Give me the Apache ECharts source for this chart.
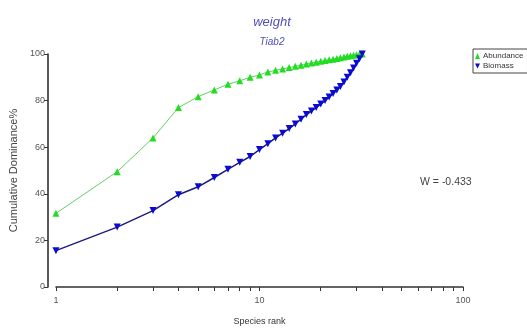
<!DOCTYPE html>
<html>
<head>
<meta charset="utf-8">
<script src="https://cdn.jsdelivr.net/npm/echarts@6/dist/echarts.min.js"></script>
<style>
html,body{margin:0;padding:0;background:#fff;}
#chart{width:527px;height:331px;}
</style>
</head>
<body>
<div id="chart"></div>
<script>
const ranks = [1,2,3,4,5,6,7,8,9,10,11,12,13,14,15,16,17,18,19,20,21,22,23,24,25,26,27,28,29,30,31,32];
const abundance = [31.6,49.5,64,77,81.7,84.6,87,88.5,90,91,92.3,93,93.6,94.2,94.7,95.2,95.7,96.1,96.5,96.9,97.2,97.5,97.8,98.1,98.4,98.7,99,99.3,99.5,99.7,99.9,100];
const biomass = [15.6,25.7,32.8,39.6,43,47,50.5,53.5,56,59,61.5,64,66,68,70,72,74,75.5,77,78.5,80,81.5,83,84.5,86,88,90,92,94,96,98,100];
const xTickValues = [1,2,3,4,5,6,7,8,9,10,20,30,40,50,60,70,80,90,100];
const xLabelValues = [1,10,100];
const yTicks = [0,20,40,60,80,100];
const wText = 'W = -0.433';

const chart = echarts.init(document.getElementById('chart'));
const font = '"Liberation Sans", Arial, sans-serif';
chart.setOption({
  backgroundColor: '#ffffff',
  animation: false,
  textStyle: {fontFamily: font},
  title: [
    {text: 'weight', left: 267, top: 11, textAlign: 'center',
     textStyle: {fontFamily: font, fontStyle: 'italic', fontWeight: 'normal', fontSize: 13, color: '#5050b8'}},
    {text: 'Tiab2', left: 267, top: 32, textAlign: 'center',
     textStyle: {fontFamily: font, fontStyle: 'italic', fontWeight: 'normal', fontSize: 10, color: '#5050b8'}}
  ],
  legend: {
    orient: 'vertical', left: 473, top: 49,
    itemWidth: 5, itemHeight: 6, itemGap: 2,
    padding: [3, 4, 3, 2],
    borderColor: '#444', borderWidth: 1,
    textStyle: {fontSize: 8, color: '#333', fontFamily: font, padding: [0, 0, 0, -2]},
    data: [
      {name: 'Abundance', icon: 'triangle'},
      {name: 'Biomass', icon: 'path://M0,0L10,0L5,10Z'}
    ]
  },
  graphic: [
    {type: 'text', left: 420, top: 177, style: {text: wText, fontSize: 10.5, fill: '#444', fontFamily: font}}
  ],
  grid: {left: 49, right: 64, top: 54, bottom: 40},
  xAxis: {
    type: 'log', logBase: 10, min: 1, max: 100, offset: 4,
    name: 'Species rank', nameLocation: 'middle', nameGap: 26,
    nameTextStyle: {fontSize: 9, color: '#333'},
    axisLine: {lineStyle: {color: '#333', width: 1.5}},
    axisTick: {show: true, length: 4, customValues: xTickValues, lineStyle: {color: '#333'}},
    axisLabel: {customValues: xLabelValues, fontSize: 9, color: '#555', margin: 5},
    splitLine: {show: false}
  },
  yAxis: {
    type: 'value', min: 0, max: 100, interval: 20, offset: 8,
    name: 'Cumulative Dominance%', nameLocation: 'middle', nameGap: 24,
    nameTextStyle: {fontSize: 11, color: '#444'},
    axisLine: {show: true, lineStyle: {color: '#222', width: 1.5}},
    axisTick: {show: true, length: 4, lineStyle: {color: '#333'}},
    axisLabel: {fontSize: 9, color: '#555', margin: 3},
    splitLine: {show: false}
  },
  series: [
    {
      name: 'Abundance', type: 'line',
      data: ranks.map((r, i) => [r, abundance[i]]),
      symbol: 'triangle', symbolSize: 7,
      lineStyle: {color: '#66cc66', width: 1},
      itemStyle: {color: '#22dd22'}
    },
    {
      name: 'Biomass', type: 'line',
      data: ranks.map((r, i) => [r, biomass[i]]),
      symbol: 'triangle', symbolSize: 7, symbolRotate: 180,
      lineStyle: {color: '#1c1c80', width: 1.5},
      itemStyle: {color: '#0a0ad0'}
    }
  ]
});
</script>
</body>
</html>
